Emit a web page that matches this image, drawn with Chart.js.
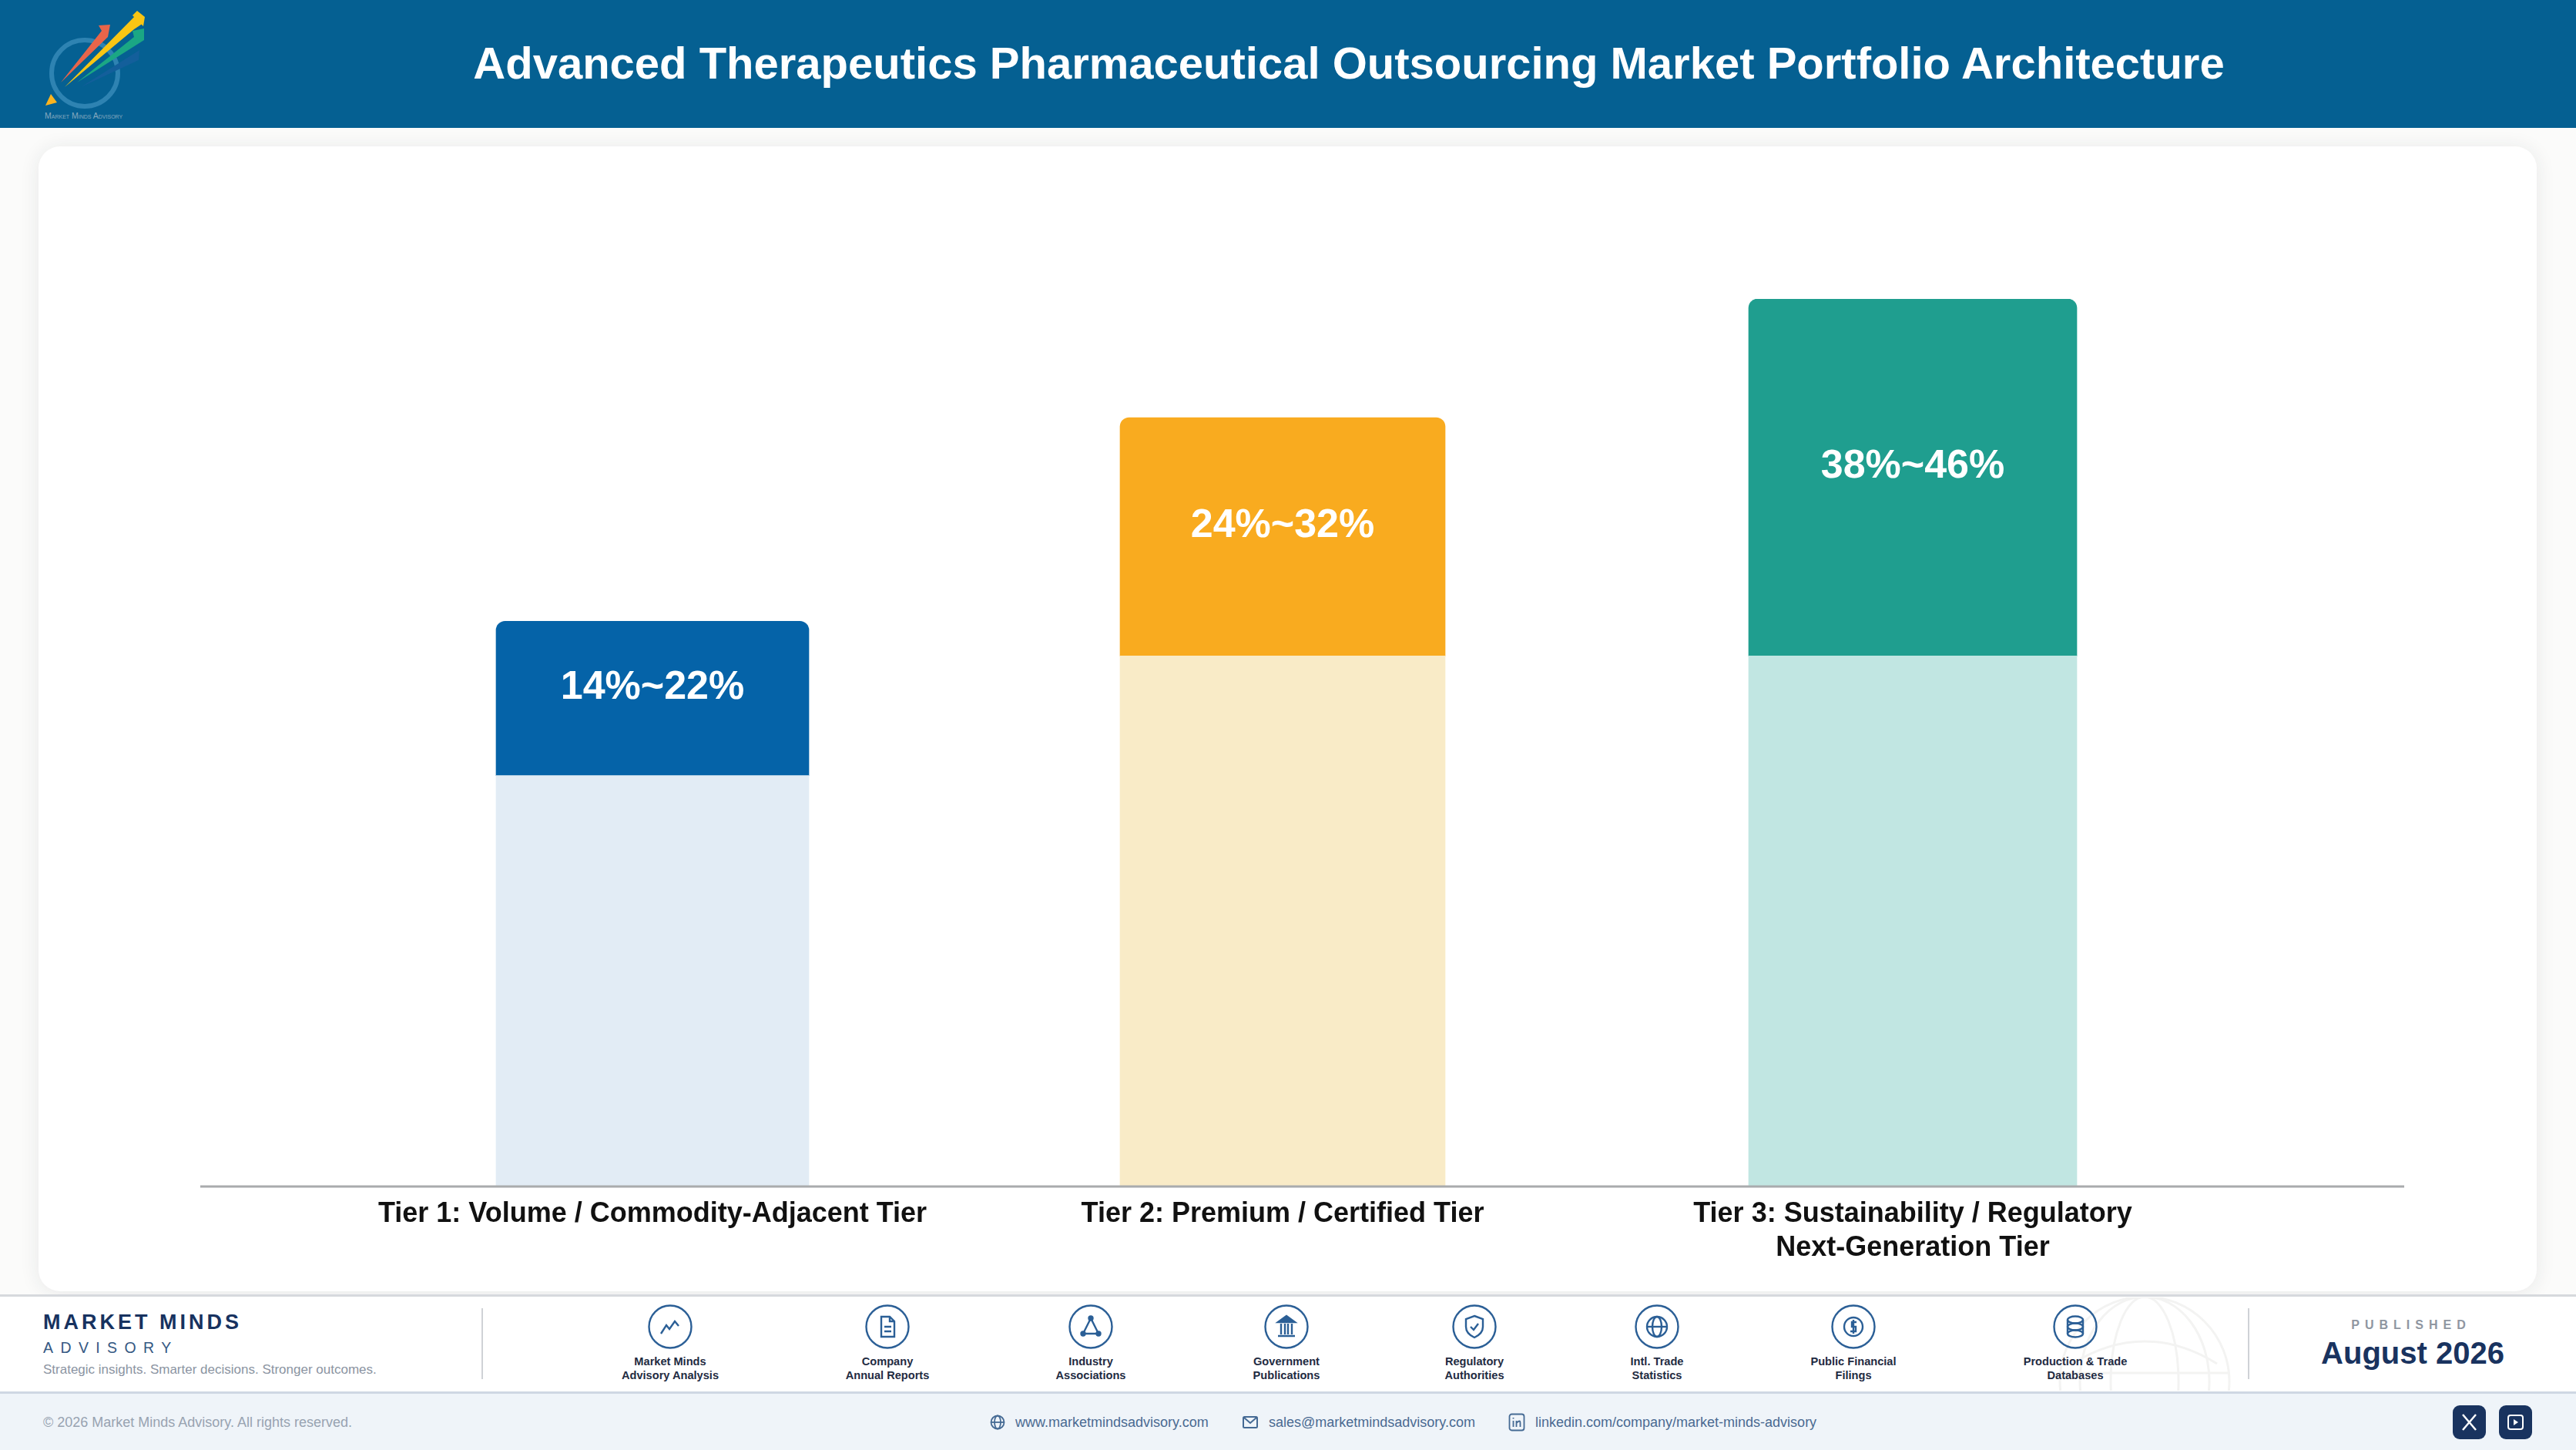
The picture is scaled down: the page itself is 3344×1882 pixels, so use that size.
<!DOCTYPE html>
<html>
<head>
<meta charset="utf-8">
<title>Advanced Therapeutics Pharmaceutical Outsourcing Market Portfolio Architecture</title>
<script src="https://cdn.jsdelivr.net/npm/chart.js@4"></script>
<style>
  html, body { margin: 0; padding: 0; }
  body {
    width: 3344px; height: 1882px; position: relative; overflow: hidden;
    background: #fbfbfa; font-family: "Liberation Sans", Arial, sans-serif;
  }
  .abs { position: absolute; white-space: nowrap; }
  .center { transform: translateX(-50%); text-align: center; }
  #header { left: 0; top: 0; width: 3344px; height: 166px; background: #056092; }
  #title {
    left: 1751px; top: 48px; line-height: 68px; font-size: 58px; font-weight: bold;
    color: #fff; transform: translateX(-50%);
  }
  #card {
    left: 50px; top: 190px; width: 3243px; height: 1486px; background: #fff;
    border-radius: 28px; box-shadow: 0 2px 26px rgba(30, 40, 60, 0.09);
  }
  #chartBox { left: 50px; top: 190px; width: 3243px; height: 1486px; }
  #footer { left: 0; top: 1680px; width: 3344px; height: 126px; background: #fff; border-top: 3px solid #d6d9dd; box-sizing: border-box; }
  #strip { left: 0; top: 1806px; width: 3344px; height: 76px; background: #eff4f9; border-top: 3px solid #cfd7e3; box-sizing: border-box; }
  .vline { width: 2px; top: 1698px; height: 92px; background: #cfd2d6; }
  .srcLabel { top: 1758px; font-size: 14.6px; line-height: 18px; font-weight: bold; color: #1f2b42; }
  .link { top: 1835px; line-height: 22px; font-size: 18px; color: #4a6a92; }
  .btn { top: 1824px; width: 43px; height: 44px; border-radius: 9px; background: #19335f; }
</style>
</head>
<body>
<div class="abs" id="header"></div>
<svg class="abs" style="left:0;top:0" width="220" height="166" viewBox="0 0 220 166">
  <ellipse cx="110" cy="95" rx="43" ry="43" fill="none" stroke="#2e83b2" stroke-width="6"/>
  <polygon points="180,16 186,30 174,38 84,113" fill="#f9c513"/>
  <polygon points="172,20 178,14 188,22 186,34" fill="#f9c513"/>
  <polygon points="143,32 128,33 132,40 79,107 140,48" fill="#e8654a"/>
  <polygon points="187,37 172,40 174,48 100,107 187,52" fill="#1ba784"/>
  <polygon points="181,65 170,72 105,113 180,78" fill="#135f9b"/>
  <polygon points="59,137 66,122 74,133" fill="#fbb41f"/>
  <text x="58" y="154" font-size="10.5" fill="#86a9bf" font-family="Liberation Sans" style="font-variant:small-caps">Market Minds Advisory</text>
</svg>
<div class="abs" id="title">Advanced Therapeutics Pharmaceutical Outsourcing Market Portfolio Architecture</div>

<div class="abs" id="card"></div>
<div class="abs" id="chartBox"><canvas id="tierChart"></canvas></div>

<div class="abs" id="footer"></div>
<div class="abs" id="strip"></div>
<svg class="abs" style="left:2660px;top:1684px" width="250" height="121" viewBox="2660 1684 250 121" fill="none" stroke="#f3f3f2" stroke-width="3">
  <circle cx="2784" cy="1793" r="110"/>
  <ellipse cx="2784" cy="1793" rx="44" ry="110"/>
  <ellipse cx="2784" cy="1793" rx="84" ry="110"/>
  <path d="M2674 1782 H2894"/>
  <path d="M2690 1770 Q2784 1712 2878 1770"/>
</svg>

<div class="abs" style="left:56px;top:1701px;font-size:27px;line-height:31px;font-weight:bold;letter-spacing:4px;color:#17325f">MARKET MINDS</div>
<div class="abs" style="left:56px;top:1738px;font-size:19.5px;line-height:23px;letter-spacing:9.4px;color:#355883">ADVISORY</div>
<div class="abs" style="left:56px;top:1768px;font-size:17px;line-height:20px;color:#8b94a2">Strategic insights. Smarter decisions. Stronger outcomes.</div>
<div class="abs vline" style="left:625px"></div>
<div class="abs vline" style="left:2918px"></div>
<div id="sources"></div>
<div class="abs center" style="left:3130px;top:1711px;font-size:16px;line-height:18px;font-weight:bold;letter-spacing:7px;color:#8f96a1">PUBLISHED</div>
<div class="abs center" style="left:3132px;top:1733px;font-size:40px;line-height:47px;font-weight:bold;color:#19335f">August 2026</div>

<div class="abs" style="left:56px;top:1835px;font-size:18px;line-height:22px;color:#98a3b1">© 2026 Market Minds Advisory. All rights reserved.</div>
<svg class="abs" style="left:1284px;top:1835px" width="22" height="22" viewBox="0 0 22 22" fill="none" stroke="#456a94" stroke-width="1.8"><circle cx="11" cy="11" r="8.5"/><ellipse cx="11" cy="11" rx="4" ry="8.5"/><path d="M2.5 11H19.5"/></svg>
<div class="abs link" style="left:1318px">www.marketmindsadvisory.com</div>
<svg class="abs" style="left:1612px;top:1835px" width="22" height="22" viewBox="0 0 22 22" fill="none" stroke="#456a94" stroke-width="2"><rect x="2" y="4" width="18" height="14" rx="1.5"/><path d="M3 5L11 12L19 5"/></svg>
<div class="abs link" style="left:1647px">sales@marketmindsadvisory.com</div>
<svg class="abs" style="left:1958px;top:1834px" width="22" height="24" viewBox="0 0 22 24" fill="none" stroke="#456a94" stroke-width="1.8"><rect x="1.5" y="1.5" width="19" height="21" rx="3"/><path d="M6.5 10V18M6.5 6V7.5M10.5 18V10M10.5 13Q15.5 8 15.5 13V18"/></svg>
<div class="abs link" style="left:1993px">linkedin.com/company/market-minds-advisory</div>
<div class="abs btn" style="left:3184px"><svg width="43" height="44" viewBox="0 0 43 44" fill="none" stroke="#fff" stroke-width="2.5"><path d="M13 12L30 32M30 12L13 32"/></svg></div>
<div class="abs btn" style="left:3244px"><svg width="43" height="44" viewBox="0 0 43 44" fill="none" stroke="#fff" stroke-width="2"><rect x="12" y="13" width="19" height="18" rx="3"/><path d="M19 18L25 22L19 26Z" fill="#fff" stroke="none"/></svg></div>

<script>
// chart data, heights (the printed ranges are not to scale)
const tierCategories = [
  "Tier 1: Volume / Commodity-Adjacent Tier",
  "Tier 2: Premium / Certified Tier",
  ["Tier 3: Sustainability / Regulatory", "Next-Generation Tier"],
];
const tierBase = [21.3, 27.5, 27.5];
const tierSpread = [8.0, 12.35, 18.5];
const tierRangeLabels = ["14%~22%", "24%~32%", "38%~46%"];

const solidColors = ["#0563a8", "#f9ab1f", "#1f9e8f"];
const paleColors = ["#e2ecf5", "#f9ebc7", "#c1e6e2"];
const barWidths = [406, 422, 426];

// footer sources
const sourceNames = [
  ["Market Minds", "Advisory Analysis"],
  ["Company", "Annual Reports"],
  ["Industry", "Associations"],
  ["Government", "Publications"],
  ["Regulatory", "Authorities"],
  ["Intl. Trade", "Statistics"],
  ["Public Financial", "Filings"],
  ["Production & Trade", "Databases"],
];
const sourceCenters = [870, 1152, 1416, 1670, 1914, 2151, 2406, 2694];
const sourceGlyphs = [
  '<path d="M18 39L25 28L29 33L36 23L41 29"/>',
  '<path d="M22 17H33L39 23V43H22Z"/><path d="M33 17V23H39M26 30H35M26 36H35"/>',
  '<path d="M30 19L20 39H40Z"/><circle cx="30" cy="19" r="2.5" fill="#2b5f96"/><circle cx="20" cy="39" r="2.5" fill="#2b5f96"/><circle cx="40" cy="39" r="2.5" fill="#2b5f96"/>',
  '<path d="M19 24L30 16L41 24Z" fill="#2b5f96"/><path d="M23 26V40M28 26V40M32 26V40M37 26V40M19 42H41" stroke-width="2.4"/>',
  '<path d="M30 16L41 20V30Q41 39 30 44Q19 39 19 30V20Z"/><path d="M25 30L29 34L35 26"/>',
  '<circle cx="30" cy="30" r="13"/><ellipse cx="30" cy="30" rx="6" ry="13"/><path d="M17 30H43"/>',
  '<circle cx="30" cy="30" r="12"/><path d="M34 24H28V30H33V36H26M30 21V39"/>',
  '<ellipse cx="30" cy="21" rx="10" ry="4.5"/><ellipse cx="30" cy="30" rx="10" ry="4.5"/><ellipse cx="30" cy="39" rx="10" ry="4.5"/><path d="M20 21V39M40 21V39"/>',
];

const sourcesDiv = document.getElementById("sources");
sourceNames.forEach((lines, i) => {
  const x = sourceCenters[i];
  const icon = document.createElement("div");
  icon.className = "abs";
  icon.style.left = x - 30 + "px";
  icon.style.top = "1692px";
  icon.innerHTML =
    '<svg width="60" height="60" viewBox="0 0 60 60" fill="none" stroke="#2b5f96" stroke-width="2.4">' +
    '<circle cx="30" cy="30" r="27.5"/>' + sourceGlyphs[i] + "</svg>";
  sourcesDiv.appendChild(icon);

  const label = document.createElement("div");
  label.className = "abs center srcLabel";
  label.style.left = x + "px";
  label.innerHTML = lines[0] + "<br>" + lines[1].replace("&", "&amp;");
  sourcesDiv.appendChild(label);
});

// Baseline runs past the plot area on both sides
const baselinePlugin = {
  id: "baseline",
  afterDatasetsDraw(chart) {
    const { ctx, chartArea, scales } = chart;
    const y = scales.y.getPixelForValue(0);
    ctx.save();
    ctx.strokeStyle = "#a9abad";
    ctx.lineWidth = 3;
    ctx.beginPath();
    ctx.moveTo(chartArea.left - 178, y);
    ctx.lineTo(chartArea.right + 229, y);
    ctx.stroke();
    ctx.restore();
  },
};

// Range text inside each solid segment
const rangeLabelPlugin = {
  id: "rangeLabels",
  afterDatasetsDraw(chart) {
    const { ctx } = chart;
    ctx.save();
    ctx.fillStyle = "#fff";
    ctx.font = 'bold 52px "Liberation Sans"';
    ctx.textAlign = "center";
    ctx.textBaseline = "middle";
    tierRangeLabels.forEach((text, i) => {
      const bar = chart.getDatasetMeta(i * 2 + 1).data[i];
      ctx.fillText(text, bar.x, (bar.y + bar.base) / 2 - 14);
    });
    ctx.restore();
  },
};

const onlyAt = (index, value) => tierCategories.map((_, j) => (j === index ? value : null));
const datasets = [];
tierCategories.forEach((_, i) => {
  datasets.push({
    data: onlyAt(i, tierBase[i]),
    backgroundColor: paleColors[i],
    barThickness: barWidths[i],
    stack: "tier",
    borderWidth: 0,
  });
  datasets.push({
    data: onlyAt(i, tierSpread[i]),
    backgroundColor: solidColors[i],
    barThickness: barWidths[i],
    stack: "tier",
    borderWidth: 0,
    borderSkipped: false,
    borderRadius: { topLeft: 12, topRight: 12, bottomLeft: 0, bottomRight: 0 },
  });
});

new Chart(document.getElementById("tierChart"), {
  type: "bar",
  data: { labels: tierCategories, datasets: datasets },
  options: {
    responsive: true,
    maintainAspectRatio: false,
    devicePixelRatio: 1,
    animation: false,
    layout: { padding: { left: 388, right: 401, top: 198, bottom: 28 } },
    plugins: { legend: { display: false }, tooltip: { enabled: false } },
    scales: {
      x: {
        stacked: true,
        grid: { display: false },
        border: { display: false },
        ticks: {
          autoSkip: false,
          maxRotation: 0,
          padding: 6,
          color: "#111",
          font: { family: "Liberation Sans", size: 36, weight: "bold", lineHeight: 1.222 },
        },
      },
      y: { stacked: true, display: false, min: 0, max: 46 },
    },
  },
  plugins: [baselinePlugin, rangeLabelPlugin],
});
</script>
</body>
</html>
